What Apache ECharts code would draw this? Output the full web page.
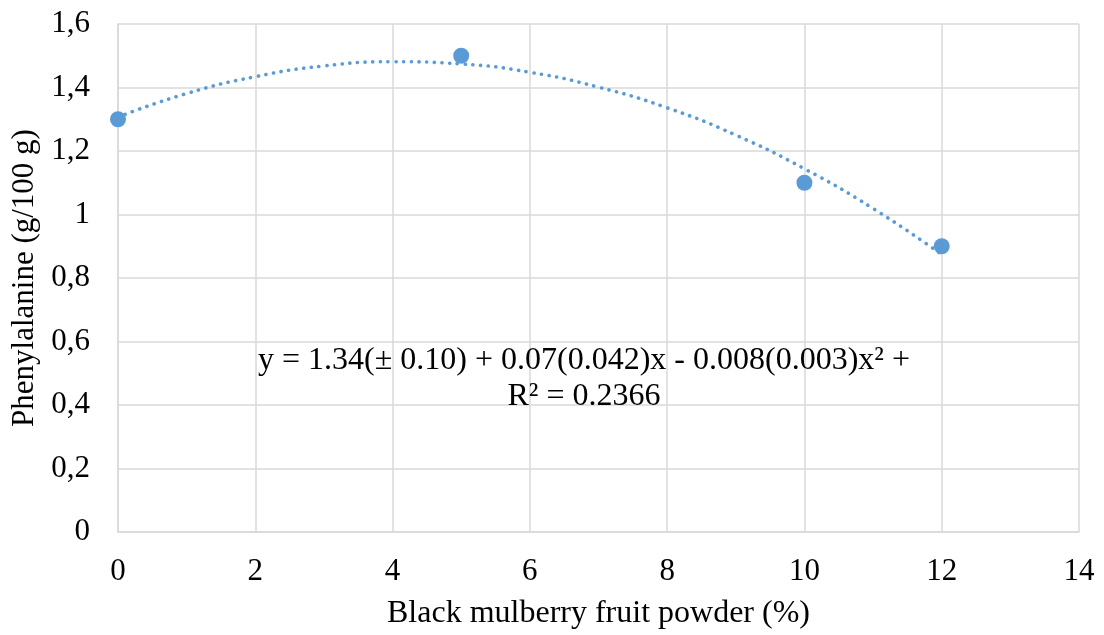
<!DOCTYPE html>
<html>
<head>
<meta charset="utf-8">
<script src="https://cdn.jsdelivr.net/npm/echarts@6/dist/echarts.min.js"></script>
<style>
html,body{margin:0;padding:0;background:#fff;}
#chart{width:1104px;height:635px;}
</style>
</head>
<body>
<div id="chart"></div>
<script>
// Measured points
const powderPct = [0, 5, 10, 12];
const phenylalanine = [1.3, 1.5, 1.1, 0.9];
// Polynomial trendline
const trendX = [0, 1, 2, 3, 4, 5, 6, 7, 8, 9, 10, 11, 12];
const trendY = [1.307, 1.381, 1.434, 1.468, 1.481, 1.474, 1.448, 1.401, 1.336, 1.250, 1.144, 1.019, 0.874];
const equationLines = ['y = 1.34(± 0.10) + 0.07(0.042)x - 0.008(0.003)x² +', 'R² = 0.2366'];
const xTitle = 'Black mulberry fruit powder (%)';
const yTitle = 'Phenylalanine (g/100 g)';

const FONT = '"Liberation Serif", "Times New Roman", serif';
const BLUE = '#5B9BD5';
const GRID = '#d9d9d9';

const chart = echarts.init(document.getElementById('chart'));
chart.setOption({
  animation: false,
  backgroundColor: '#fff',
  textStyle: { fontFamily: FONT },
  grid: { left: 118, right: 25, top: 24, bottom: 103, containLabel: false },
  xAxis: {
    type: 'value', min: 0, max: 14, interval: 2,
    name: xTitle, nameLocation: 'middle', nameGap: 66,
    nameTextStyle: { fontFamily: FONT, fontSize: 32, color: '#000' },
    axisLine: { show: true, lineStyle: { color: GRID, width: 1.5 } },
    axisTick: { show: false },
    axisLabel: { fontFamily: FONT, fontSize: 31, color: '#000', margin: 24 },
    splitLine: { show: true, lineStyle: { color: GRID, width: 1.5 } }
  },
  yAxis: {
    type: 'value', min: 0, max: 1.6, interval: 0.2,
    name: yTitle, nameLocation: 'middle', nameGap: 66, nameRotate: 90,
    nameTextStyle: { fontFamily: FONT, fontSize: 31, color: '#000' },
    axisLine: { show: true, lineStyle: { color: GRID, width: 1.5 } },
    axisTick: { show: false },
    axisLabel: {
      fontFamily: FONT, fontSize: 31, color: '#000', margin: 28,
      formatter: v => String(Math.round(v * 10) / 10).replace('.', ',')
    },
    splitLine: { show: true, lineStyle: { color: GRID, width: 1.5 } }
  },
  series: [
    {
      type: 'line',
      data: trendX.map((x, i) => [x, trendY[i]]),
      smooth: true,
      showSymbol: false,
      symbol: 'none',
      lineStyle: { color: BLUE, width: 3.6, type: [0.1, 7.6], cap: 'round' },
      z: 2
    },
    {
      type: 'scatter',
      data: powderPct.map((x, i) => [x, phenylalanine[i]]),
      symbol: 'circle',
      symbolSize: 16,
      itemStyle: { color: BLUE, opacity: 1 },
      z: 3
    }
  ],
  graphic: [
    {
      type: 'text', x: 584, y: 343,
      style: {
        text: equationLines.join('\n'),
        fontFamily: FONT, fontSize: 32, fill: '#000',
        textAlign: 'center', textVerticalAlign: 'top', lineHeight: 36
      },
      z: 10
    }
  ]
});
</script>
</body>
</html>
